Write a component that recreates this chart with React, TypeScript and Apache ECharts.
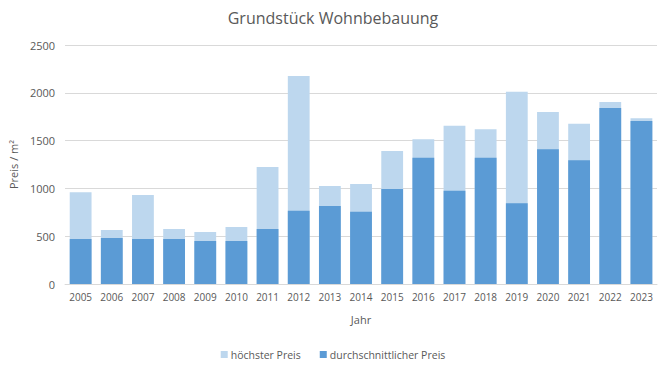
import React, { useEffect, useRef } from "react";
import * as echarts from "echarts";

const years = ["2005","2006","2007","2008","2009","2010","2011","2012","2013","2014","2015","2016","2017","2018","2019","2020","2021","2022","2023"];
const hoechsterPreis = [960, 565, 930, 575, 545, 595, 1225, 2175, 1025, 1045, 1390, 1515, 1655, 1620, 2010, 1800, 1675, 1905, 1735];
const durchschnittPreis = [470, 480, 470, 470, 450, 450, 575, 765, 815, 755, 995, 1320, 975, 1320, 845, 1410, 1295, 1840, 1705];

const FONT = "'Open Sans', 'Noto Sans', sans-serif";
const TXT = "#595959";

export default function App() {
  const ref = useRef<HTMLDivElement>(null);
  useEffect(() => {
    if (!ref.current) return;
    const chart = echarts.init(ref.current, undefined, { renderer: "svg" });
    chart.setOption({
      animation: false,
      backgroundColor: "#ffffff",
      textStyle: { fontFamily: FONT },
      title: {
        text: "Grundstück Wohnbebauung",
        left: "center",
        top: 5,
        textStyle: { fontFamily: FONT, fontSize: 16, fontWeight: "normal", color: TXT },
      },
      legend: {
        bottom: 5,
        left: "center",
        itemWidth: 7,
        itemHeight: 7,
        itemGap: 19,
        icon: "rect",
        textStyle: { fontFamily: FONT, fontSize: 10.5, color: TXT, padding: [0, 0, 0, -2] },
        data: ["höchster Preis", "durchschnittlicher Preis"],
      },
      grid: { left: 64, right: 9, top: 45, bottom: 86, containLabel: false },
      xAxis: {
        type: "category",
        data: years,
        name: "Jahr",
        nameLocation: "middle",
        nameGap: 30,
        nameTextStyle: { fontFamily: FONT, fontSize: 11, color: TXT },
        axisLine: { lineStyle: { color: "#D9D9D9" } },
        axisTick: { show: false },
        axisLabel: { fontFamily: FONT, fontSize: 10, color: TXT, margin: 8, interval: 0 },
      },
      yAxis: {
        type: "value",
        min: 0,
        max: 2500,
        interval: 500,
        name: "Preis / m²",
        nameLocation: "middle",
        nameRotate: 90,
        nameGap: 42,
        nameTextStyle: { fontFamily: FONT, fontSize: 11, color: TXT },
        axisLine: { show: false },
        axisTick: { show: false },
        axisLabel: { fontFamily: FONT, fontSize: 11, color: TXT, margin: 10, formatter: (v: number) => String(v) },
        splitLine: { lineStyle: { color: "#D9D9D9" } },
      },
      series: [
        {
          name: "höchster Preis",
          type: "bar",
          data: hoechsterPreis,
          barWidth: "70%",
          barGap: "-100%",
          itemStyle: { color: "#BDD7EE" },
        },
        {
          name: "durchschnittlicher Preis",
          type: "bar",
          data: durchschnittPreis,
          barWidth: "70%",
          barGap: "-100%",
          itemStyle: { color: "#5B9BD5" },
        },
      ],
    });
    return () => chart.dispose();
  }, []);
  return <div ref={ref} style={{ position: "fixed", left: 0, top: 0, width: 666, height: 370 }} />;
}
